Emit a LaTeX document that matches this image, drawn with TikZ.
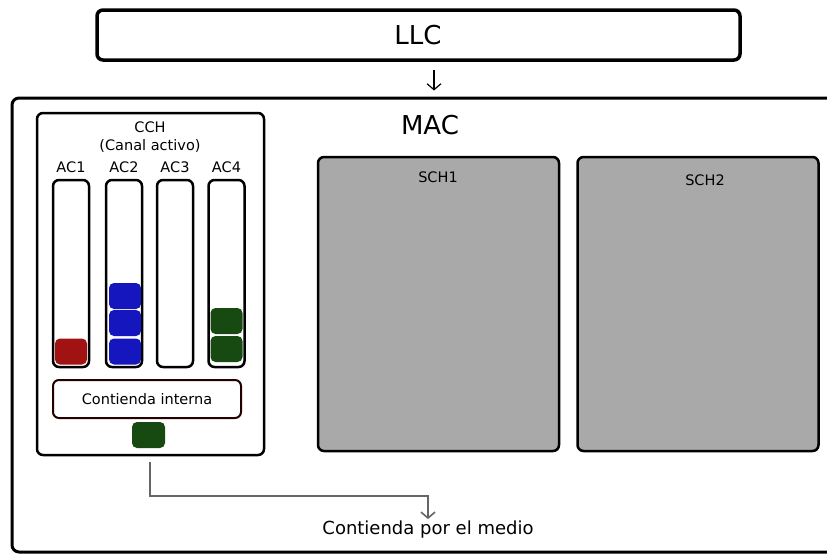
\documentclass[tikz,border=0pt]{standalone}
\usepackage{fontspec}
\setmainfont{DejaVu Sans}
\usetikzlibrary{arrows.meta}
\definecolor{cred}{HTML}{A11212}
\definecolor{cblue}{HTML}{1616BE}
\definecolor{cgreen}{HTML}{174A10}
\definecolor{cgrey}{HTML}{A9A9A9}
\definecolor{cline}{HTML}{666666}
\begin{document}
\begin{tikzpicture}[x=1pt,y=1pt,
  frame/.style={draw=black, rounded corners=6pt, inner sep=0pt, fill=white},
  big/.style={font=\fontsize{26}{30}\selectfont},
  small/.style={font=\fontsize{14.5}{16}\selectfont, inner sep=0pt},
  queue/.style={frame, line width=2.5pt, minimum width=36pt, minimum height=187pt},
  pkt/.style={rounded corners=5pt, minimum width=32pt, minimum height=26pt, inner sep=0pt},
  redpkt/.style={pkt, fill=cred},
  bluepkt/.style={pkt, fill=cblue},
  greenpkt/.style={pkt, fill=cgreen},
  sch/.style={frame, fill=cgrey, line width=2.5pt, minimum width=241pt, minimum height=294pt},
  arr/.style={-{Straight Barb[length=6pt,width=14pt]}}
]
\useasboundingbox (0,0) rectangle (827,-554);
% LLC
\node[frame, line width=3.5pt, minimum width=643pt, minimum height=50pt] (llc) at (418.5,-35) {};
\node[big] (llct) at (418,-35) {LLC};
% MAC
\node[frame, line width=3pt, minimum width=828pt, minimum height=454pt, rounded corners=7pt] (mac) at (426,-325) {};
\node[big] (mact) at (430,-125) {MAC};
\coordinate (ax) at (434,0);
\draw[arr, line width=1.2pt, shorten <=8pt, shorten >=6pt] (llc.south -| ax) -- (mac.north -| ax);
% CCH
\node[frame, line width=2.5pt, minimum width=227pt, minimum height=342pt] (cch) at (150.5,-284) {};
\node[small] (ccht) at (150,-127) {CCH};
\node[small] (cchs) at (150,-146) {(Canal activo)};
\node[small] (l1) at (71,-167) {AC1};
\node[small] (l2) at (124,-167) {AC2};
\node[small] (l3) at (175,-167) {AC3};
\node[small] (l4) at (226.5,-167) {AC4};
\node[queue] (q1) at (71,-273.5) {};
\node[queue] (q2) at (124,-273.5) {};
\node[queue] (q3) at (175,-273.5) {};
\node[queue] (q4) at (226.5,-273.5) {};
\node[redpkt] (r1) at (71,-351.5) {};
\node[bluepkt] (b1) at (125,-351.5) {};
\node[bluepkt] (b2) at (125,-323) {};
\node[bluepkt] (b3) at (125,-296) {};
\node[greenpkt] (g1) at (226.5,-349) {};
\node[greenpkt] (g2) at (226.5,-321) {};
\node[frame, draw=black!85!red, line width=2pt, minimum width=188pt, minimum height=38pt, small] (ci) at (147,-399) {Contienda interna};
\node[greenpkt, minimum width=33pt] (out) at (148.5,-435) {};
% SCH
\node[sch] (sch1) at (438.5,-304) {};
\node[small] (sch1t) at (438,-177) {SCH1};
\node[sch] (sch2) at (698,-304) {};
\node[small] (sch2t) at (705,-180) {SCH2};
% medium
\node[font=\fontsize{18}{21}\selectfont, inner sep=0pt, anchor=base] (medio) at (428,-534) {Contienda por el medio};
\coordinate (turn) at (150,-496);
\draw[arr, draw=cline, line width=1.6pt, shorten <=14pt, shorten >=1pt]
  (out.south -| turn) -- (turn) -| (medio.north);
\end{tikzpicture}
\end{document}
